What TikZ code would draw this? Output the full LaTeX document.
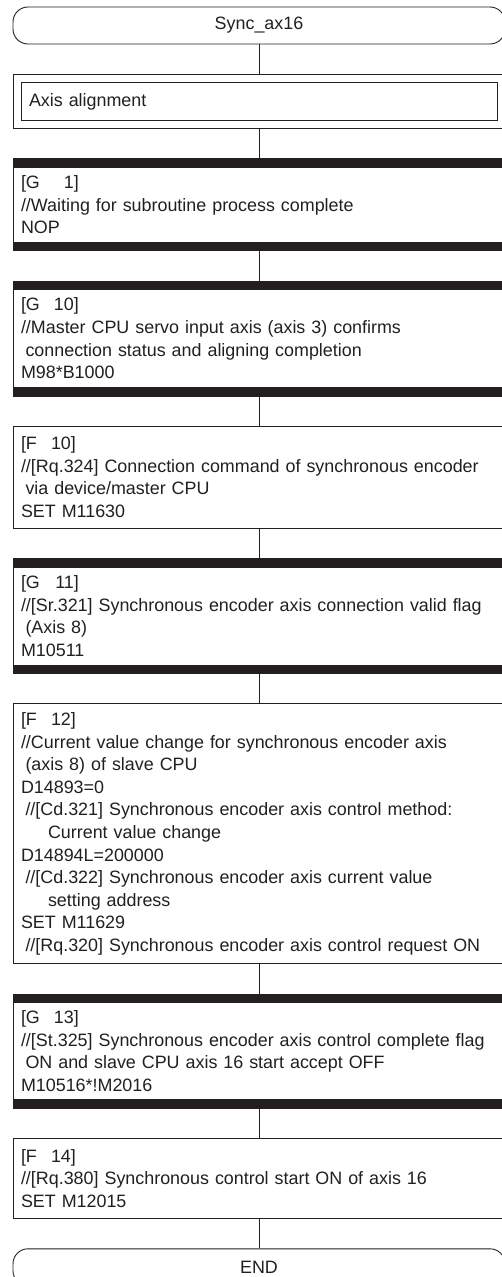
\documentclass[tikz,border=0pt]{standalone}
\usepackage{fontspec}
\setmainfont{Liberation Sans}
\usetikzlibrary{positioning}
\definecolor{ink}{HTML}{231F20}
\newcommand{\indA}{\hspace*{4.5pt}}
\newcommand{\indB}{\hspace*{27pt}}
\newcommand{\stepno}[2]{[#1\makebox[34pt][r]{#2}]}
\tikzset{
    terminal/.style={rectangle, rounded corners=15pt, draw=ink, line width=0.9pt, minimum width=492pt, minimum height=37pt, text=ink},
    subbox/.style={rectangle, draw=ink, line width=0.8pt, minimum width=492pt, minimum height=54pt, text width=460pt, inner xsep=16pt, align=left, text=ink,
        path picture={\draw[ink, line width=0.8pt] ([shift={(8pt,-8pt)}]path picture bounding box.north west) rectangle ([shift={(-8pt,8pt)}]path picture bounding box.south east);}},
    fstep/.style={rectangle, draw=ink, line width=0.8pt, text width=476pt, inner xsep=8pt, inner ysep=2pt, align=left, text=ink},
    gstep/.style={fstep, path picture={
        \fill[ink] (path picture bounding box.north west) rectangle ([yshift=-9pt]path picture bounding box.north east);
        \fill[ink] (path picture bounding box.south west) rectangle ([yshift=9pt]path picture bounding box.south east);}},
    link/.style={draw=ink, line width=0.8pt}
}

\begin{document}
\begin{tikzpicture}[node distance=29.5pt, font=\fontsize{17.9}{22.6}\selectfont]
\clip (0,0) rectangle (502pt,-1277pt);

% Nodes
\node (start) [terminal] at (259pt,-25.5pt) {Sync\_ax16};
\node (align) [subbox, below=30pt of start] {Axis alignment};
\node (g1) [gstep, below=29pt of align, minimum height=92pt] {\stepno{G}{1}\\
//Waiting for subroutine process complete\\
NOP};
\node (g10) [gstep, below=of g1, minimum height=115pt] {\stepno{G}{10}\\
//Master CPU servo input axis (axis 3) confirms\\
\indA connection status and aligning completion\\
M98*B1000};
\node (f10) [fstep, below=of g10, minimum height=102pt] {\stepno{F}{10}\\
\mbox{//[Rq.324] Connection command of synchronous encoder}\\
\indA via device/master CPU\\
SET M11630};
\node (g11) [gstep, below=of f10, minimum height=115pt] {\stepno{G}{11}\\
\mbox{//[Sr.321] Synchronous encoder axis connection valid flag}\\
\indA(Axis 8)\\
M10511};
\node (f12) [fstep, below=of g11, minimum height=260pt] {\stepno{F}{12}\\
//Current value change for synchronous encoder axis\\
\indA(axis 8) of slave CPU\\
D14893=0\\
\indA//[Cd.321] Synchronous encoder axis control method:\\
\indB Current value change\\
D14894L=200000\\
\indA//[Cd.322] Synchronous encoder axis current value\\
\indB setting address\\
SET M11629\\
\indA\mbox{//[Rq.320] Synchronous encoder axis control request ON}};
\node (g13) [gstep, below=of f12, minimum height=114pt] {\stepno{G}{13}\\
\mbox{//[St.325] Synchronous encoder axis control complete flag}\\
\indA ON and slave CPU axis 16 start accept OFF\\
M10516*!M2016};
\node (f14) [fstep, below=of g13, minimum height=80pt] {\stepno{F}{14}\\
//[Rq.380] Synchronous control start ON of axis 16\\
SET M12015};
\node (stop) [terminal, below=of f14] {END};

% Connectors
\draw [link] (start) -- (align);
\draw [link] (align) -- (g1);
\draw [link] (g1) -- (g10);
\draw [link] (g10) -- (f10);
\draw [link] (f10) -- (g11);
\draw [link] (g11) -- (f12);
\draw [link] (f12) -- (g13);
\draw [link] (g13) -- (f14);
\draw [link] (f14) -- (stop);

\end{tikzpicture}
\end{document}
